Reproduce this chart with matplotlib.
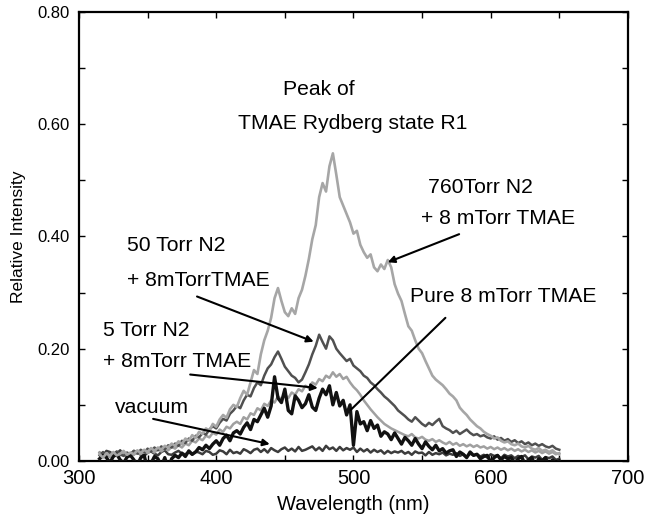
import numpy as np
import matplotlib
matplotlib.use("Agg")
import matplotlib.pyplot as plt
from matplotlib.ticker import MultipleLocator, FormatStrFormatter

plt.rcParams['font.family'] = ['Liberation Sans', 'DejaVu Sans']

wavelength = np.arange(315, 650.1, 2.5)

torr760 = [0.012, 0.006, 0.014, 0.009, 0.016, 0.010, 0.013, 0.018, 0.011, 0.015,
           0.012, 0.019, 0.014, 0.020, 0.016, 0.023, 0.018, 0.024, 0.020, 0.027,
           0.024, 0.031, 0.027, 0.035, 0.030, 0.040, 0.036, 0.046, 0.041, 0.052,
           0.048, 0.058, 0.054, 0.066, 0.061, 0.074, 0.082, 0.077, 0.092, 0.100,
           0.096, 0.112, 0.125, 0.118, 0.140, 0.162, 0.155, 0.190, 0.215, 0.232,
           0.255, 0.290, 0.308, 0.285, 0.265, 0.258, 0.272, 0.262, 0.290, 0.305,
           0.330, 0.360, 0.395, 0.420, 0.470, 0.495, 0.480, 0.525, 0.548, 0.510,
           0.470, 0.455, 0.440, 0.425, 0.405, 0.410, 0.385, 0.372, 0.362, 0.368,
           0.345, 0.338, 0.350, 0.342, 0.358, 0.345, 0.315, 0.298, 0.285, 0.262,
           0.240, 0.232, 0.215, 0.200, 0.192, 0.178, 0.165, 0.152, 0.145, 0.140,
           0.135, 0.128, 0.120, 0.115, 0.108, 0.095, 0.088, 0.082, 0.074, 0.068,
           0.062, 0.058, 0.052, 0.048, 0.045, 0.040, 0.042, 0.036, 0.033, 0.035,
           0.030, 0.028, 0.031, 0.026, 0.024, 0.027, 0.022, 0.020, 0.023, 0.018,
           0.020, 0.016, 0.019, 0.014, 0.012]

torr50 = [0.010, 0.016, 0.008, 0.014, 0.011, 0.017, 0.012, 0.009, 0.015, 0.012,
          0.018, 0.013, 0.020, 0.015, 0.022, 0.017, 0.024, 0.019, 0.026, 0.021,
          0.028, 0.024, 0.031, 0.027, 0.036, 0.032, 0.040, 0.036, 0.045, 0.042,
          0.050, 0.047, 0.056, 0.062, 0.058, 0.068, 0.075, 0.072, 0.084, 0.090,
          0.098, 0.094, 0.108, 0.118, 0.115, 0.130, 0.140, 0.135, 0.152, 0.165,
          0.172, 0.185, 0.195, 0.182, 0.168, 0.160, 0.152, 0.148, 0.140, 0.145,
          0.158, 0.172, 0.190, 0.205, 0.225, 0.212, 0.200, 0.222, 0.215, 0.200,
          0.192, 0.185, 0.178, 0.182, 0.170, 0.165, 0.160, 0.152, 0.148, 0.140,
          0.135, 0.128, 0.122, 0.115, 0.110, 0.104, 0.098, 0.090, 0.085, 0.080,
          0.074, 0.070, 0.078, 0.072, 0.066, 0.062, 0.068, 0.064, 0.070, 0.075,
          0.062, 0.058, 0.055, 0.050, 0.054, 0.048, 0.052, 0.056, 0.050, 0.046,
          0.048, 0.044, 0.046, 0.042, 0.040, 0.044, 0.038, 0.041, 0.036, 0.039,
          0.034, 0.037, 0.032, 0.035, 0.030, 0.033, 0.028, 0.031, 0.027, 0.030,
          0.026, 0.024, 0.027, 0.022, 0.020]

torr5 = [0.015, 0.009, 0.013, 0.007, 0.012, 0.016, 0.010, 0.013, 0.008, 0.014,
         0.011, 0.016, 0.012, 0.018, 0.014, 0.019, 0.015, 0.021, 0.017, 0.022,
         0.019, 0.025, 0.022, 0.028, 0.024, 0.031, 0.028, 0.036, 0.033, 0.040,
         0.037, 0.045, 0.042, 0.050, 0.047, 0.056, 0.052, 0.061, 0.058, 0.066,
         0.070, 0.066, 0.078, 0.074, 0.085, 0.082, 0.094, 0.090, 0.102, 0.098,
         0.108, 0.104, 0.115, 0.110, 0.118, 0.112, 0.122, 0.118, 0.128, 0.124,
         0.134, 0.130, 0.140, 0.136, 0.146, 0.142, 0.152, 0.148, 0.158, 0.150,
         0.155, 0.146, 0.150, 0.140, 0.132, 0.126, 0.118, 0.108, 0.100, 0.092,
         0.085, 0.078, 0.072, 0.066, 0.062, 0.058, 0.055, 0.052, 0.049, 0.046,
         0.044, 0.048, 0.042, 0.040, 0.043, 0.038, 0.036, 0.039, 0.034, 0.037,
         0.033, 0.030, 0.034, 0.029, 0.032, 0.027, 0.030, 0.026, 0.029, 0.025,
         0.028, 0.024, 0.026, 0.022, 0.025, 0.021, 0.024, 0.020, 0.023, 0.019,
         0.022, 0.018, 0.021, 0.017, 0.020, 0.016, 0.019, 0.015, 0.018, 0.014,
         0.017, 0.013, 0.016, 0.012, 0.014]

pure = [0.004, 0.010, 0.006, -0.003, 0.008, 0.012, 0.002, -0.004, 0.007, 0.010,
        0.002, -0.008, 0.006, 0.010, -0.016, -0.004, 0.008, 0.004, -0.010, 0.006,
        -0.014, 0.004, 0.010, 0.006, 0.014, 0.008, 0.018, 0.012, 0.016, 0.024,
        0.020, 0.028, 0.022, 0.030, 0.036, 0.028, 0.040, 0.046, 0.036, 0.050,
        0.054, 0.048, 0.060, 0.068, 0.056, 0.074, 0.070, 0.082, 0.094, 0.078,
        0.098, 0.150, 0.112, 0.104, 0.128, 0.090, 0.084, 0.116, 0.108, 0.095,
        0.102, 0.118, 0.096, 0.090, 0.112, 0.128, 0.118, 0.134, 0.100, 0.122,
        0.098, 0.108, 0.082, 0.100, 0.028, 0.088, 0.066, 0.070, 0.054, 0.072,
        0.058, 0.064, 0.044, 0.052, 0.048, 0.038, 0.050, 0.040, 0.030, 0.042,
        0.036, 0.028, 0.040, 0.030, 0.022, 0.034, 0.026, 0.020, 0.028, 0.018,
        0.022, 0.014, 0.018, 0.020, 0.008, 0.016, 0.012, 0.006, 0.016, 0.010,
        0.012, 0.004, 0.008, 0.010, -0.002, 0.006, 0.010, 0.002, 0.008, 0.004,
        0.006, -0.004, 0.004, 0.008, -0.006, 0.002, 0.006, -0.010, 0.004, 0.000,
        0.006, -0.012, 0.002, -0.004, 0.000]

vacuum = [0.015, 0.010, 0.018, 0.016, 0.012, 0.013, 0.019, 0.010, 0.014, 0.012,
          0.018, 0.015, 0.011, 0.009, 0.015, 0.017, 0.013, 0.010, 0.016, 0.019,
          0.012, 0.011, 0.015, 0.018, 0.013, 0.012, 0.016, 0.011, 0.017, 0.015,
          0.012, 0.018, 0.016, 0.011, 0.013, 0.019, 0.017, 0.012, 0.020, 0.014,
          0.016, 0.013, 0.021, 0.018, 0.014, 0.020, 0.022, 0.016, 0.021, 0.015,
          0.023, 0.019, 0.016, 0.021, 0.024, 0.018, 0.022, 0.017, 0.025, 0.018,
          0.020, 0.023, 0.026, 0.019, 0.024, 0.018, 0.027, 0.021, 0.024, 0.018,
          0.025, 0.019, 0.023, 0.020, 0.024, 0.016, 0.022, 0.017, 0.021, 0.015,
          0.020, 0.016, 0.019, 0.013, 0.018, 0.014, 0.017, 0.015, 0.018, 0.013,
          0.016, 0.011, 0.017, 0.014, 0.015, 0.010, 0.016, 0.011, 0.014, 0.012,
          0.015, 0.010, 0.013, 0.011, 0.014, 0.009, 0.012, 0.007, 0.013, 0.010,
          0.012, 0.008, 0.011, 0.006, 0.012, 0.009, 0.010, 0.005, 0.011, 0.008,
          0.010, 0.005, 0.009, 0.007, 0.010, 0.003, 0.008, 0.006, 0.009, 0.002,
          0.007, 0.005, 0.008, 0.002, 0.004]

fig = plt.figure(figsize=(6.45, 5.21), dpi=100)
ax = fig.add_axes([0.1225, 0.1152, 0.851, 0.862])

ax.plot(wavelength, vacuum, color='#3c3c3c', lw=1.8, zorder=2)
ax.plot(wavelength, torr5, color='#a0a0a0', lw=1.8, zorder=3)
ax.plot(wavelength, torr50, color='#505050', lw=1.8, zorder=4)
ax.plot(wavelength, pure, color='#111111', lw=2.4, zorder=5)
ax.plot(wavelength, torr760, color='#a6a6a6', lw=1.9, zorder=6)

ax.set_xlim(300, 700)
ax.set_ylim(0, 0.8)
ax.xaxis.set_major_locator(MultipleLocator(100))
ax.xaxis.set_minor_locator(MultipleLocator(50))
ax.yaxis.set_major_locator(MultipleLocator(0.2))
ax.yaxis.set_minor_locator(MultipleLocator(0.1))
ax.yaxis.set_major_formatter(FormatStrFormatter('%.2f'))
ax.tick_params(which='both', direction='in', top=True, right=True, length=4, width=1)
ax.tick_params(axis='x', labelsize=14.5, pad=6)
ax.tick_params(axis='y', labelsize=12, pad=7)
for s in ax.spines.values():
    s.set_linewidth(1.6)

ax.set_xlabel('Wavelength (nm)', fontsize=14.5, labelpad=5)
ax.set_ylabel('Relative Intensity', fontsize=12.5, labelpad=8)

fs = 15.2
ax.text(449, 0.662, 'Peak of', ha='left', va='center', fontsize=fs)
ax.text(416, 0.602, 'TMAE Rydberg state R1', ha='left', va='center', fontsize=fs)
ax.text(554, 0.4875, '760Torr N2', ha='left', va='center', fontsize=fs)
ax.text(549, 0.432, '+ 8 mTorr TMAE', ha='left', va='center', fontsize=fs)
ax.text(541, 0.293, 'Pure 8 mTorr TMAE', ha='left', va='center', fontsize=fs)
ax.text(335, 0.384, '50 Torr N2', ha='left', va='center', fontsize=fs)
ax.text(335, 0.321, '+ 8mTorrTMAE', ha='left', va='center', fontsize=fs)
ax.text(317.5, 0.232, '5 Torr N2', ha='left', va='center', fontsize=fs)
ax.text(317.5, 0.177, '+ 8mTorr TMAE', ha='left', va='center', fontsize=fs)
ax.text(326, 0.095, 'vacuum', ha='left', va='center', fontsize=fs)

arrow = dict(arrowstyle='-|>', color='black', lw=1.5, mutation_scale=10, shrinkA=0, shrinkB=0)
ax.annotate('', xy=(525, 0.354), xytext=(577, 0.404), arrowprops=arrow, zorder=8)
ax.annotate('', xy=(471, 0.2125), xytext=(386, 0.293), arrowprops=arrow, zorder=8)
ax.annotate('', xy=(474, 0.13), xytext=(381, 0.154), arrowprops=arrow, zorder=8)
ax.annotate('', xy=(439, 0.03), xytext=(354, 0.075), arrowprops=arrow, zorder=8)
ax.annotate('', xy=(498, 0.091), xytext=(567, 0.255),
            arrowprops=dict(arrowstyle='-', color='black', lw=1.5, shrinkA=0, shrinkB=0), zorder=8)

fig.savefig('out.png', dpi=100)
